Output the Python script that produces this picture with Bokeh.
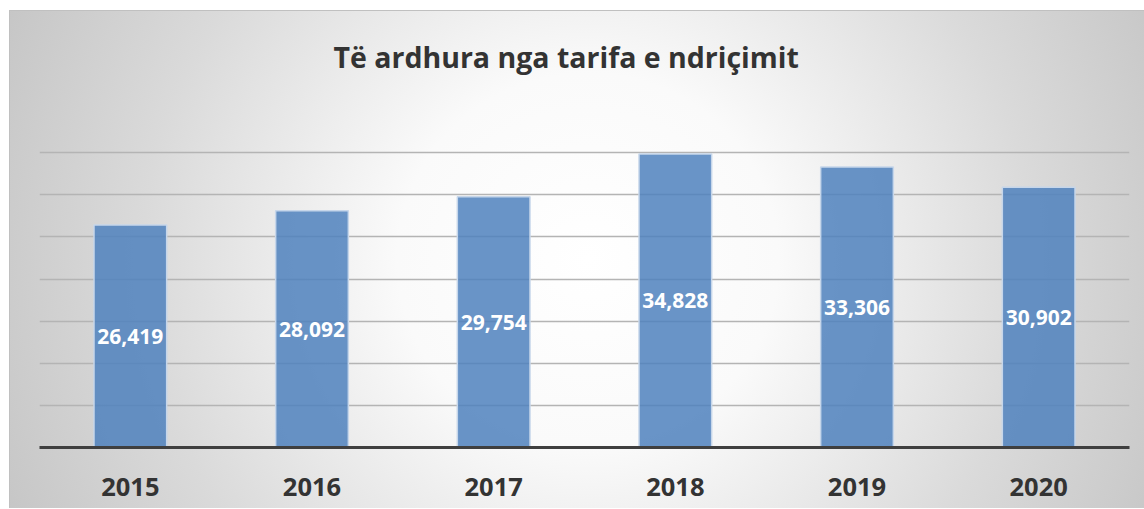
from bokeh.plotting import figure
from bokeh.models import ColumnDataSource, LabelSet, Range1d, SingleIntervalTicker, FactorRange
from bokeh.core.properties import value
from bokeh.embed import file_html
from bokeh.resources import INLINE

years = ["2015", "2016", "2017", "2018", "2019", "2020"]
values = [26419, 28092, 29754, 34828, 33306, 30902]
value_labels = ["26,419", "28,092", "29,754", "34,828", "33,306", "30,902"]
title_text = "Të ardhura nga tarifa e ndriçimit"

source = ColumnDataSource(dict(
    year=years,
    value=values,
    mid=[v / 2 for v in values],
    label=value_labels,
))

p = figure(
    x_range=FactorRange(*years, range_padding=0),
    y_range=Range1d(0, 40000),
    width=1144, height=508,
    output_backend="svg", toolbar_location=None,
    min_border_left=39, min_border_right=15,
    min_border_top=110, min_border_bottom=61,
    title=title_text,
)
p.styles = {
    "background": (
        "linear-gradient(#c0c0c0, #c0c0c0) 9px 10px / 100% 1px no-repeat, "
        "linear-gradient(#c0c0c0, #c0c0c0) 9px 10px / 1px 100% no-repeat, "
        "radial-gradient(ellipse 56% 125% at 51% 50%, #ffffff 0%, #fafafa 30%, #dadada 70%, #c6c6c6 100%) "
        "9px 11px / calc(100% - 9px) calc(100% - 11px) no-repeat, #ffffff"
    ),
}
p.border_fill_alpha = 0
p.background_fill_alpha = 0
p.outline_line_color = None

p.title.align = "left"
p.title.offset = 294
p.title.text_font = "Open Sans"
p.title.text_font_style = "bold"
p.title.text_font_size = "28.5px"
p.title.text_color = "#333333"
p.title.standoff = 70

p.vbar(x="year", top="value", width=0.4, source=source,
       fill_color="#4f81bd", fill_alpha=0.85,
       line_color="#c6d6ea", line_width=1.5)

labels = LabelSet(x="year", y="mid", text="label", source=source,
                  text_align="center", text_baseline="middle",
                  text_color="white", text_font=value("Open Sans"),
                  text_font_style="bold", text_font_size="21px")
p.add_layout(labels)

p.yaxis.visible = False
p.xgrid.grid_line_color = None
p.ygrid.ticker = SingleIntervalTicker(interval=5000)
p.ygrid.grid_line_color = "#b4b4b4"
p.ygrid.grid_line_width = 1.5

ax = p.xaxis[0]
ax.axis_line_color = "#3f3f3f"
ax.axis_line_width = 3
ax.major_tick_line_color = None
ax.minor_tick_line_color = None
ax.major_label_text_font = "Open Sans"
ax.major_label_text_font_style = "bold"
ax.major_label_text_font_size = "25.5px"
ax.major_label_text_color = "#333333"
ax.major_label_standoff = 24

open("out.html", "w").write(file_html(p, INLINE))
